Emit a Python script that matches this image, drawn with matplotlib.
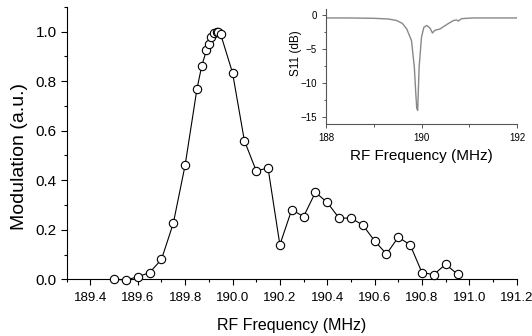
import matplotlib
matplotlib.use('Agg')
import matplotlib.pyplot as plt
from matplotlib.ticker import MultipleLocator

plt.rcParams['font.family'] = ['Liberation Sans', 'DejaVu Sans']

# main curve: modulation vs RF frequency
freq = [189.50, 189.55, 189.60, 189.65, 189.70, 189.75, 189.80, 189.85, 189.87,
        189.89, 189.90, 189.91, 189.92, 189.935, 189.94, 189.95, 190.00, 190.05,
        190.10, 190.15, 190.20, 190.25, 190.30, 190.35, 190.40, 190.45, 190.50,
        190.55, 190.60, 190.65, 190.70, 190.75, 190.80, 190.85, 190.90, 190.95]
modulation = [0.0, -0.003, 0.01, 0.027, 0.08, 0.226, 0.461, 0.769, 0.861,
              0.925, 0.951, 0.978, 0.996, 1.0, 0.999, 0.989, 0.834, 0.56,
              0.438, 0.449, 0.139, 0.281, 0.253, 0.351, 0.31, 0.247, 0.247,
              0.219, 0.155, 0.102, 0.17, 0.139, 0.027, 0.019, 0.061, 0.02]

# inset: S11 reflection
s11_freq = [188.0, 188.5, 189.0, 189.3, 189.48, 189.6, 189.69, 189.79, 189.85,
            189.88, 189.9, 189.92, 189.95, 190.0, 190.05, 190.11, 190.18, 190.23,
            190.28, 190.39, 190.53, 190.67, 190.74, 190.77, 190.84, 191.07, 191.5, 192.0]
s11_db = [-0.5, -0.5, -0.55, -0.65, -0.87, -1.3, -2.1, -3.8, -7.7,
          -11.5, -13.7, -14.0, -7.7, -3.3, -1.85, -1.6, -2.0, -2.7,
          -2.3, -2.1, -1.45, -0.87, -0.8, -0.95, -0.6, -0.5, -0.5, -0.5]

fig = plt.figure(figsize=(5.32, 3.36), dpi=100)
ax = fig.add_axes([0.1254, 0.1688, 0.8459, 0.811])
ax.plot(freq, modulation, color='black', lw=0.8, marker='o', ms=6,
        mfc='white', mec='black', mew=0.8, clip_on=False, zorder=3)
ax.set_xlim(189.3, 191.2)
ax.set_ylim(0, 1.1)
ax.xaxis.set_major_locator(MultipleLocator(0.2))
ax.xaxis.set_minor_locator(MultipleLocator(0.1))
ax.yaxis.set_major_locator(MultipleLocator(0.2))
ax.yaxis.set_minor_locator(MultipleLocator(0.1))
ax.xaxis.set_major_formatter(plt.FormatStrFormatter('%.1f'))
ax.yaxis.set_major_formatter(plt.FormatStrFormatter('%.1f'))
ax.spines['top'].set_visible(False)
ax.spines['right'].set_visible(False)
ax.tick_params(which='both', direction='out', width=0.8)
ax.tick_params(axis='x', labelsize=9.5, pad=5)
ax.tick_params(axis='y', labelsize=11, pad=3)
ax.tick_params(which='major', length=4)
ax.tick_params(which='minor', length=2.5)
ax.set_xlabel('RF Frequency (MHz)', fontsize=11.5, labelpad=10)
ax.set_ylabel('Modulation (a.u.)', fontsize=14)
ax.yaxis.set_label_coords(-0.086, 0.45)

ins = fig.add_axes([0.6128, 0.631, 0.359, 0.342])
ins.plot(s11_freq, s11_db, color='#888888', lw=1.0)
ins.set_xlim(188, 192)
ins.set_ylim(-16, 0.8)
ins.xaxis.set_major_locator(MultipleLocator(2))
ins.xaxis.set_minor_locator(MultipleLocator(1))
ins.yaxis.set_major_locator(MultipleLocator(5))
ins.yaxis.set_minor_locator(MultipleLocator(2.5))
ins.spines['top'].set_visible(False)
ins.spines['right'].set_visible(False)
for sp in ['left', 'bottom']:
    ins.spines[sp].set_color('#555555')
ins.tick_params(which='both', direction='out', labelsize=7, width=0.7, color='#555555')
ins.tick_params(which='major', length=3)
ins.tick_params(which='minor', length=1.8)
ins.set_xlabel('RF Frequency (MHz)', fontsize=11, labelpad=4)
ins.set_ylabel('S11 (dB)', fontsize=8.5)
ins.yaxis.set_label_coords(-0.126, 0.62)

plt.savefig('out.png', dpi=100)
